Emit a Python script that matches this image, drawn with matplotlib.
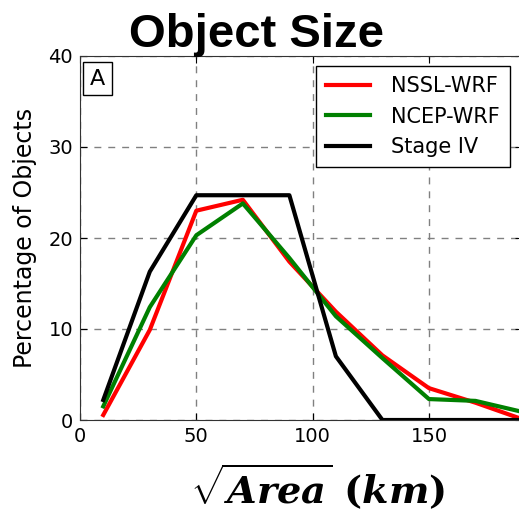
import matplotlib
matplotlib.use("Agg")
import matplotlib.pyplot as plt

# data
size_km = [10, 30, 50, 70, 90, 110, 130, 150, 170, 190]
nssl_wrf = [0.55, 9.9, 23.0, 24.2, 17.4, 11.9, 7.1, 3.5, 1.9, 0.1]
ncep_wrf = [1.5, 12.4, 20.3, 23.8, 17.8, 11.4, 6.8, 2.3, 2.1, 0.9]
stage_iv = [2.2, 16.3, 24.7, 24.7, 24.7, 7.0, 0.0, 0.0, 0.0, 0.0]

plt.rcParams["mathtext.fontset"] = "custom"
plt.rcParams["mathtext.it"] = "DejaVu Serif:italic:bold"
plt.rcParams["mathtext.rm"] = "DejaVu Serif:bold"

fig = plt.figure(figsize=(5.19, 5.15), dpi=100)
ax = fig.add_axes([80 / 519, 95 / 515, 442 / 519, 364 / 515])

ax.plot(size_km, nssl_wrf, color="red", lw=3, label="NSSL-WRF")
ax.plot(size_km, ncep_wrf, color="green", lw=3, label="NCEP-WRF")
ax.plot(size_km, stage_iv, color="black", lw=3, label="Stage IV")

ax.set_xlim(0, 190)
ax.set_ylim(0, 40)
ax.set_xticks([0, 50, 100, 150])
ax.set_yticks([0, 10, 20, 30, 40])
ax.grid(True, linestyle=(0, (5, 5)), color="gray", lw=1)
ax.tick_params(direction="in", top=True, right=True, labelsize=14, length=5, pad=5)
for s in ax.spines.values():
    s.set_color("#333333")

ax.set_ylabel("Percentage of Objects", fontsize=17)
ax.yaxis.set_label_coords(-0.097, 0.5)
ax.set_xlabel(r"$\sqrt{Area}\ (km)$", fontsize=27.5)
ax.xaxis.set_label_coords(0.537, -0.112)

ax.text(0.022, 0.965, "A", transform=ax.transAxes, fontsize=16, va="top", ha="left",
        bbox=dict(boxstyle="square,pad=0.3", fc="white", ec="black"))

leg = ax.legend(loc="upper right", bbox_to_anchor=(0.973, 0.973), borderaxespad=0, fontsize=15,
                fancybox=False, edgecolor="black", framealpha=1, handlelength=2.1, borderpad=0.5,
                labelspacing=0.5, handletextpad=1.0)
leg.get_frame().set_linewidth(1)

fig.text(0.495, 0.975, "Object Size", fontsize=34, fontweight="bold", family="Liberation Sans",
         ha="center", va="top")

fig.savefig("out.png", dpi=100)
